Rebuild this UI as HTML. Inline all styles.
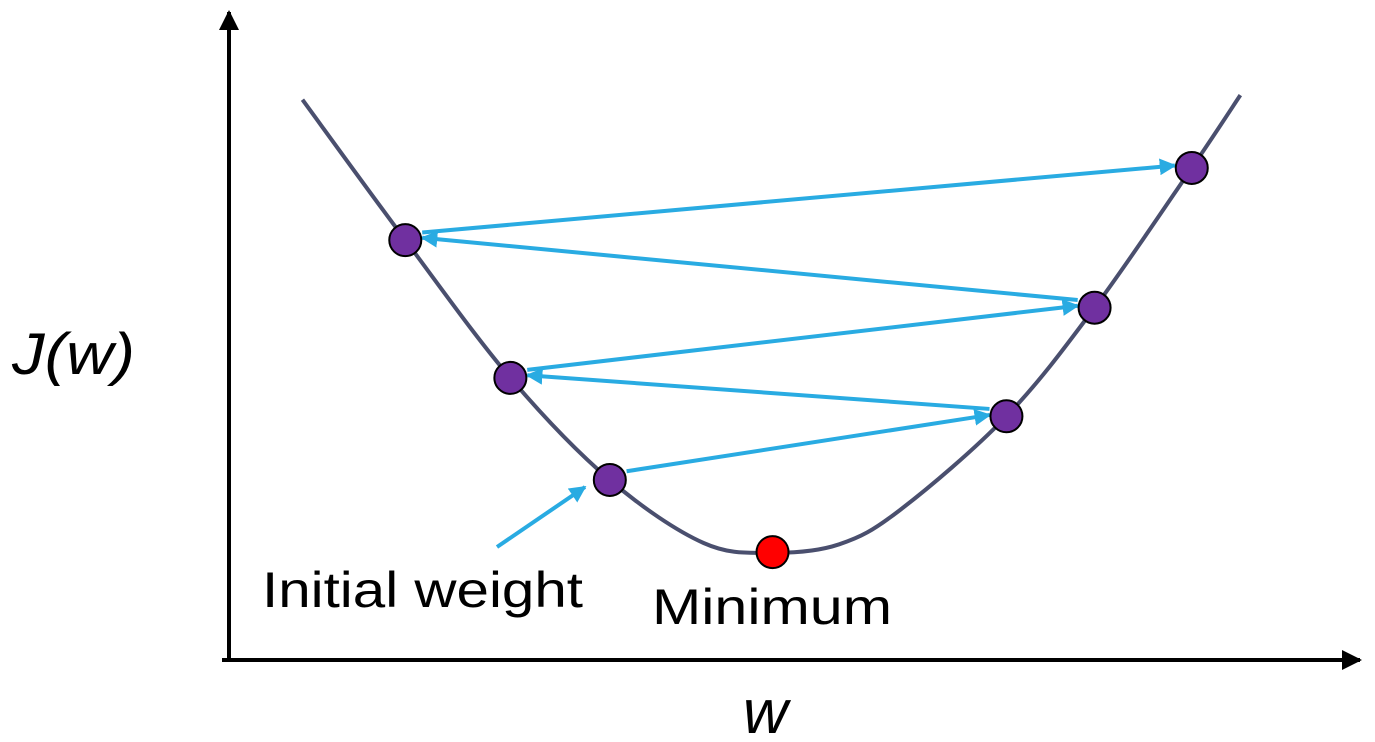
<!DOCTYPE html>
<html><head><meta charset="utf-8"><style>
html,body{margin:0;padding:0;background:#fff;}
svg{display:block;}
text{font-family:"Liberation Sans","DejaVu Sans",sans-serif;fill:#000;}
</style></head><body>
<svg id="chart" width="1375" height="742" viewBox="0 0 1375 742" xmlns="http://www.w3.org/2000/svg">
<defs>
<marker id="ah" viewBox="0 0 10 10" refX="9" refY="5" markerWidth="4.2" markerHeight="4.2" orient="auto"><path d="M0,0 L10,5 L0,10 z" fill="#29abe2"/></marker>
<marker id="axh" viewBox="0 0 10 10" refX="9" refY="5" markerWidth="5" markerHeight="5" orient="auto"><path d="M0,0 L10,5 L0,10 z" fill="#000"/></marker>
</defs>
<line x1="229" y1="662" x2="229" y2="12" stroke="#000" stroke-width="4" marker-end="url(#axh)"/>
<line x1="222" y1="660" x2="1360" y2="660" stroke="#000" stroke-width="4" marker-end="url(#axh)"/>
<text x="12" y="374" font-size="58" font-style="italic" textLength="123" lengthAdjust="spacingAndGlyphs">J(w)</text>
<text x="743" y="733" font-size="62" font-style="italic">w</text>
<text x="262" y="607" font-size="50" textLength="321" lengthAdjust="spacingAndGlyphs">Initial weight</text>
<text x="652" y="624" font-size="50" textLength="240" lengthAdjust="spacingAndGlyphs">Minimum</text>
<g id="g"></g>
</svg>
<script>
const curveW=[6.5,15.6,24.9,33.7,42.0,48.1,54.0,59.4,68.8,76.6,85.2,89.5];
const curveJ=[86.2,64.6,43.4,27.7,18.0,16.5,17.8,23.1,37.5,54.2,75.7,86.9];
const stepW=[33.7,68.8,24.9,76.6,15.6,85.2];
const stepJ=[27.7,37.5,43.4,54.2,64.6,75.7];
const minW=48.1, minJ=16.6;
const xs=w=>229+w*11.3, ys=j=>660-j*6.5;
const NS="http://www.w3.org/2000/svg", g=document.getElementById('g');
function mk(t,a){const e=document.createElementNS(NS,t);for(const k in a)e.setAttribute(k,a[k]);g.appendChild(e);return e;}
const P=curveW.map((w,i)=>[xs(w),ys(curveJ[i])]);
let d=`M${P[0][0]},${P[0][1]}`;
for(let i=0;i<P.length-1;i++){const p0=P[i-1]||P[i],p1=P[i],p2=P[i+1],p3=P[i+2]||P[i+1];
d+=` C${p1[0]+(p2[0]-p0[0])/6},${p1[1]+(p2[1]-p0[1])/6} ${p2[0]-(p3[0]-p1[0])/6},${p2[1]-(p3[1]-p1[1])/6} ${p2[0]},${p2[1]}`;}
const c=mk('path',{d:d,fill:'none',stroke:'#4a4f6e','stroke-width':4});


const R=17;
for(let i=0;i<stepW.length-1;i++){
 const x1=xs(stepW[i]),y1=ys(stepJ[i]),x2=xs(stepW[i+1]),y2=ys(stepJ[i+1]);
 const L=Math.hypot(x2-x1,y2-y1),ux=(x2-x1)/L,uy=(y2-y1)/L;
 const a=mk('line',{x1:x1+ux*R,y1:y1+uy*R-6,x2:x2-ux*R,y2:y2-uy*R-4,stroke:'#29abe2','stroke-width':4,'marker-end':'url(#ah)'});
 
 
}
const ia=mk('line',{x1:497,y1:547,x2:585,y2:487,stroke:'#29abe2','stroke-width':4,'marker-end':'url(#ah)'});


stepW.forEach((w,i)=>{const p=mk('circle',{cx:xs(w),cy:ys(stepJ[i]),r:16,fill:'#7030a0',stroke:'#000','stroke-width':2});

});
const m=mk('circle',{cx:xs(minW),cy:ys(minJ),r:16,fill:'#ff0000',stroke:'#000','stroke-width':2});


</script>
</body></html>
